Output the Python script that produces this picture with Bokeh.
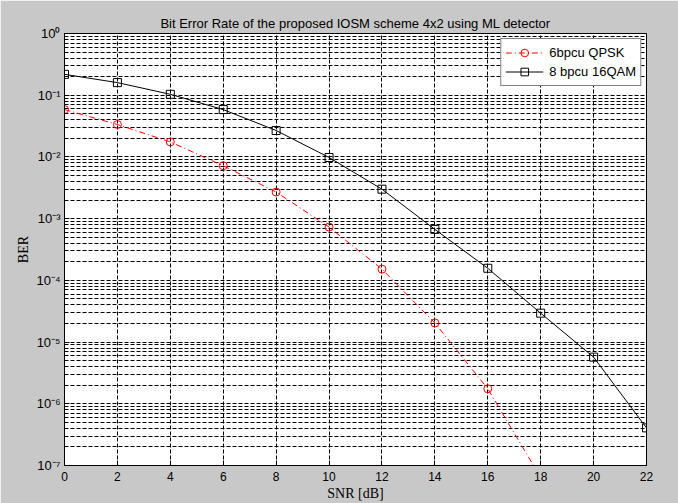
from bokeh.plotting import figure
from bokeh.models import Range1d, FixedTicker, CustomJSTickFormatter, Legend, LegendItem
from bokeh.embed import file_html
from bokeh.resources import INLINE

# ---- data ----
snr_qpsk = [0, 2, 4, 6, 8, 10, 12, 14, 16, 18]
ber_qpsk = [0.0585, 0.0335, 0.0175, 0.0072, 0.0027, 7.3e-4, 1.52e-4, 2.04e-5, 1.75e-6, 6.4e-8]

snr_16qam = [0, 2, 4, 6, 8, 10, 12, 14, 16, 18, 20, 22]
ber_16qam = [0.218, 0.16, 0.1035, 0.0585, 0.0268, 0.0098, 0.0030, 6.7e-4, 1.57e-4, 2.94e-5, 5.7e-6, 4.07e-7]

x_ticks = [0, 2, 4, 6, 8, 10, 12, 14, 16, 18, 20, 22]
y_ticks = [1e-7, 1e-6, 1e-5, 1e-4, 1e-3, 1e-2, 1e-1, 1.0]
y_tick_labels = ["10\u207b\u2077", "10\u207b\u2076", "10\u207b\u2075", "10\u207b\u2074",
                 "10\u207b\u00b3", "10\u207b\u00b2", "10\u207b\u00b9", "10\u2070"]
y_minor = [m * 10.0 ** e for e in range(-7, 0) for m in range(2, 10)]

title_text = "Bit Error Rate of the proposed IOSM scheme 4x2 using ML detector"
x_label = "SNR [dB]"
y_label = "BER"
legend_labels = ["6bpcu QPSK", "8 bpcu 16QAM"]

SANS = "Liberation Sans"
SERIF = "Liberation Serif"
BG = "#c8c8c8"

p = figure(width=678, height=503, output_backend="svg", toolbar_location=None,
           y_axis_type="log", x_range=Range1d(0, 22), y_range=Range1d(1e-7, 1.0),
           title=title_text)

p.min_border_left = 64
p.min_border_right = 32
p.min_border_top = 33
p.min_border_bottom = 37
p.border_fill_color = BG
p.background_fill_color = "white"
p.outline_line_color = "black"
p.outline_line_width = 1

p.title.align = "center"
p.title.text_font = SANS
p.title.text_font_size = "13px"
p.title.text_font_style = "normal"
p.title.text_color = "black"
p.title.standoff = 6

# axes
p.xaxis.ticker = FixedTicker(ticks=x_ticks)
p.yaxis.ticker = FixedTicker(ticks=y_ticks, minor_ticks=y_minor)
p.yaxis.formatter = CustomJSTickFormatter(args=dict(vals=y_ticks, labs=y_tick_labels), code="""
    let best = 0, bd = Infinity;
    for (let i = 0; i < vals.length; i++) {
        const d = Math.abs(Math.log10(vals[i]) - Math.log10(tick));
        if (d < bd) { bd = d; best = i; }
    }
    return labs[best];
""")

for ax in (p.xaxis, p.yaxis):
    ax.axis_line_color = "black"
    ax.major_tick_line_color = "black"
    ax.minor_tick_line_color = "black"
    ax.major_tick_in = 5
    ax.major_tick_out = 0
    ax.minor_tick_in = 3
    ax.minor_tick_out = 0
    ax.major_label_text_font = SANS
    ax.major_label_text_font_size = "12px"
    ax.major_label_text_color = "black"
    ax.axis_label_text_font = SERIF
    ax.axis_label_text_font_size = "14px"
    ax.axis_label_text_font_style = "normal"
    ax.axis_label_text_color = "black"

p.yaxis.major_label_text_font_size = "13px"
p.xaxis.axis_label = x_label
p.yaxis.axis_label = y_label
p.xaxis.major_label_standoff = 6
p.xaxis.axis_label_standoff = 2
p.yaxis.major_label_standoff = 4
p.yaxis.axis_label_standoff = 2

# grids
p.xgrid.grid_line_color = "black"
p.xgrid.grid_line_dash = "4 2"
p.xgrid.grid_line_width = 1
p.ygrid.grid_line_color = "black"
p.ygrid.grid_line_dash = "4 2"
p.ygrid.grid_line_width = 1
p.ygrid.minor_grid_line_color = "black"
p.ygrid.minor_grid_line_dash = "4 2"
p.ygrid.minor_grid_line_width = 1

# series
r1l = p.line(snr_qpsk, ber_qpsk, line_color="#ff0000", line_width=1, line_dash="6 3 1 3")
r1m = p.scatter(snr_qpsk, ber_qpsk, marker="circle", size=8, line_color="#ff0000",
                fill_color=None, line_width=1)
r2l = p.line(snr_16qam, ber_16qam, line_color="black", line_width=1)
r2m = p.scatter(snr_16qam, ber_16qam, marker="square", size=8, line_color="black",
                fill_color=None, line_width=1)

legend = Legend(items=[LegendItem(label=legend_labels[0], renderers=[r1l, r1m]),
                       LegendItem(label=legend_labels[1], renderers=[r2l, r2m])],
                location="top_right")
legend.margin = 5
legend.padding = 4
legend.spacing = 0
legend.glyph_width = 38
legend.glyph_height = 19
legend.label_height = 19
legend.label_standoff = 6
legend.label_text_font = SANS
legend.label_text_font_size = "13px"
legend.label_text_color = "black"
legend.border_line_color = "black"
legend.border_line_width = 1
legend.background_fill_color = "white"
legend.background_fill_alpha = 1.0
p.add_layout(legend, "center")

open("out.html", "w").write(file_html(p, INLINE))
